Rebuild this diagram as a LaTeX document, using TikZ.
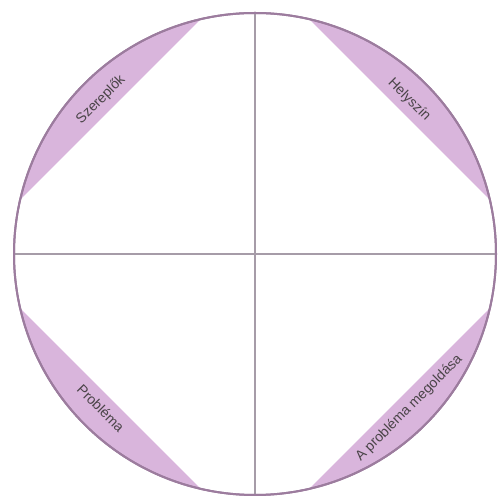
\documentclass[tikz,border=0pt]{standalone}
\usepackage{fontspec}
\setmainfont{Liberation Sans}
\usetikzlibrary{calc}
\definecolor{segfill}{HTML}{D9B5DC}
\definecolor{rim}{HTML}{9C7C9E}
\definecolor{axiscol}{HTML}{A69CA8}
\definecolor{txt}{HTML}{4A4448}
\begin{document}
\begin{tikzpicture}[x=1pt,y=1pt,
  seg/.style={fill=segfill},
  lbl/.style={text=txt, font=\fontsize{14}{16}\selectfont, inner sep=0pt},
  axisline/.style={draw=axiscol, line width=1.4pt}]
\useasboundingbox (0,0) rectangle (501,498);
\coordinate (C) at (255,244);
% segments
\fill[seg] (C) ++(13:241) arc[start angle=13,end angle=77,radius=241] -- cycle;
\fill[seg] (C) ++(103:241) arc[start angle=103,end angle=167,radius=241] -- cycle;
\fill[seg] (C) ++(193:241) arc[start angle=193,end angle=257,radius=241] -- cycle;
\fill[seg] (C) ++(283:241) arc[start angle=283,end angle=347,radius=241] -- cycle;
% ring
\node[circle, draw=rim, line width=2pt, minimum size=482pt, inner sep=0pt, outer sep=0pt] (ring) at (C) {};
% axes
\draw[axisline] (ring.north) -- (ring.south);
\draw[axisline] (ring.west) -- (ring.east);
\draw[rim, line width=2pt] (C) circle[radius=241];
% labels
\node[lbl, rotate=45]  (szer) at ($(C)+(135:218)$) {Szereplők};
\node[lbl, rotate=-45] (hely) at ($(C)+(45:218)$) {Helyszín};
\node[lbl, rotate=-45] (prob) at ($(C)+(225:218)$) {Probléma};
\node[lbl, rotate=45]  (megold) at ($(C)+(315:218)$) {A probléma megoldása};
\end{tikzpicture}
\end{document}
